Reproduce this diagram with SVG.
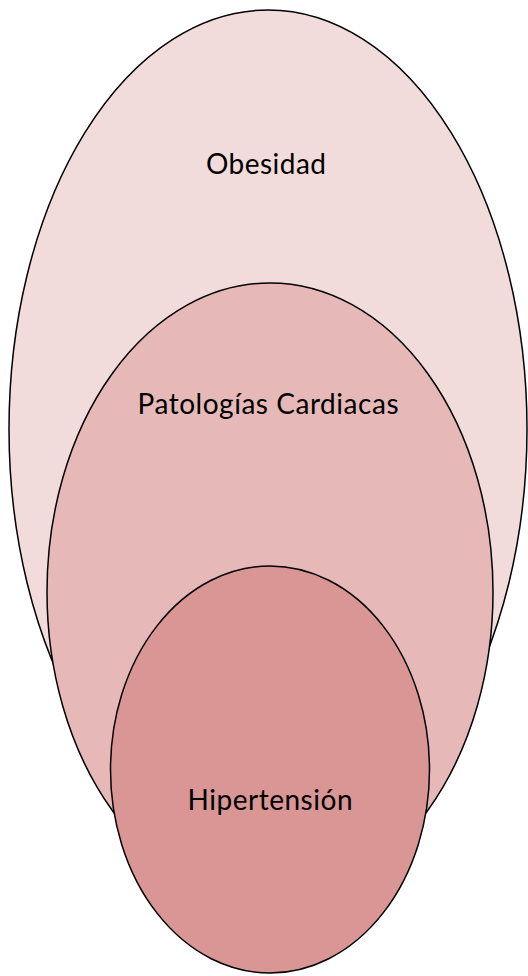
<svg xmlns="http://www.w3.org/2000/svg" width="528" height="976" viewBox="0 0 528 976">
<style>
.shape{stroke:#000;stroke-width:1.5}
.lbl{font-family:Lato,"Liberation Sans",sans-serif;font-size:28px;fill:#000;text-anchor:middle}
</style>
<rect width="528" height="976" fill="#fff"/>
<g id="obesidad">
<ellipse class="shape" cx="268" cy="429" rx="259" ry="419" fill="#F2DCDB"/>
<text class="lbl" x="266" y="174" textLength="120">Obesidad</text>
</g>
<g id="patologias">
<ellipse class="shape" cx="270" cy="592" rx="223" ry="309" fill="#E6B9B8"/>
<text class="lbl" x="268" y="414" textLength="261">Patologías Cardiacas</text>
</g>
<g id="hipertension">
<ellipse class="shape" cx="270" cy="769.5" rx="159.5" ry="203.5" fill="#D99694"/>
<text class="lbl" x="270" y="810" textLength="165">Hipertensión</text>
</g>
<g id="connectors"/>
</svg>
